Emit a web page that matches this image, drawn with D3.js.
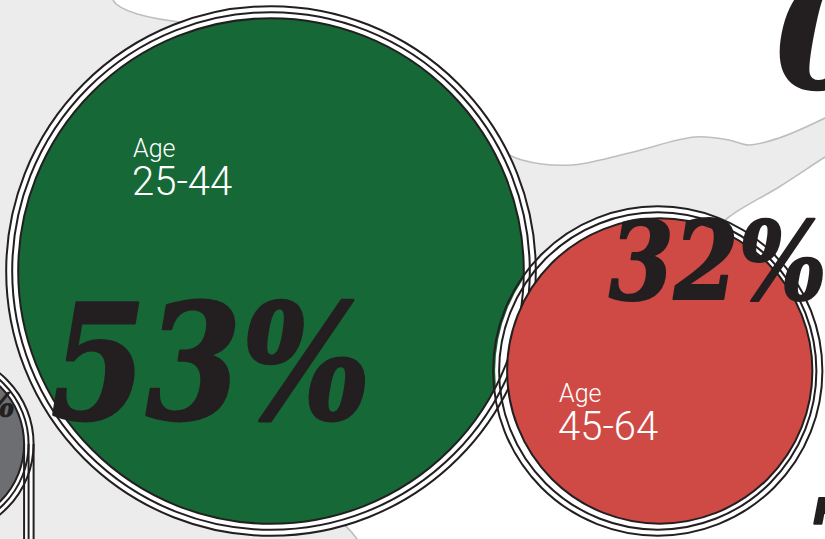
<!DOCTYPE html>
<html>
<head>
<meta charset="utf-8">
<script src="https://cdn.jsdelivr.net/npm/d3@7/dist/d3.min.js"></script>
<style>
  html, body { margin: 0; padding: 0; background: #ffffff; }
  svg { display: block; }
</style>
</head>
<body>
<svg id="chart" width="825" height="539"></svg>
<script>
// ---- data ----
const categories = ["25-44", "45-64", "other"];
const values = [53, 32, 17];
const labelPrefix = "Age";
const valueLabels = ["53%", "32%", "17%"];
const offscreenLabels = ["0", "7"];

// ---- layout (not data) ----
const W = 825, H = 539;
const centers = [[271, 271], [659.75, 371], [-57, 444]];
const fills = ["#166836", "#cf4a45", "#6d6e71"];
const ink = "#231f20";

const svg = d3.select("#chart");
const r = d3.scaleLinear().domain([0, 100]).range([0, 477]);

svg.append("rect").attr("width", W).attr("height", H).attr("fill", "#ffffff");

// background blob (decoration)
const cr = d3.line().curve(d3.curveCatmullRom.alpha(0.5));
const upper = [[495,147],[522,160],[572,165],[629,153],[695,137],[729,140],[749,145],[779,138],[825,118],[840,110]];
const lower = [[840,148],[825,157],[779,187],[729,217],[700,245]];
const blob = "M-5,-5 L113,-5 L113,0 C118,10 145,19 190,23 L300,70 L495,147 " +
  "L" + cr(upper).slice(1) +
  " L840,148 L" + cr(lower).slice(1) +
  " L518,334 L450,450 L335,518 C345,524 352,532 357,539 L357,545 L-5,545 Z";
svg.append("path").attr("d", blob).attr("fill", "#ececec")
  .attr("stroke", "#bcbec0").attr("stroke-width", 1.6);

const bubbles = categories.map((c, i) => ({
  cat: c, v: values[i], cx: centers[i][0], cy: centers[i][1], fill: fills[i],
  r: r(values[i]), off: i === 2 ? [4.5, 9.5] : [6, 12]
}));
const [g, red, gray] = bubbles;

const bigFont = "'DejaVu Serif', serif";
function big(sel, size) {
  return sel.attr("fill", ink).attr("stroke", ink).attr("stroke-width", size / 55)
    .attr("stroke-linejoin", "round")
    .attr("font-family", bigFont).attr("font-weight", "bold").attr("font-style", "italic")
    .attr("font-size", size);
}

// gray bubble (far left)
{
  const b = gray;
  const grp = svg.append("g");
  grp.append("rect").attr("x", b.cx + b.r).attr("y", b.cy)
    .attr("width", b.off[1]).attr("height", H - b.cy).attr("fill", "#fff");
  grp.append("circle").attr("cx", b.cx).attr("cy", b.cy).attr("r", b.r + b.off[1]).attr("fill", "#fff");
  [b.off[0], b.off[1]].forEach(o => grp.append("circle").attr("cx", b.cx).attr("cy", b.cy)
    .attr("r", b.r + o).attr("fill", "none").attr("stroke", ink).attr("stroke-width", 2));
  grp.append("circle").attr("cx", b.cx).attr("cy", b.cy).attr("r", b.r)
    .attr("fill", b.fill).attr("stroke", ink).attr("stroke-width", 2);
  [0, b.off[0], b.off[1]].forEach(o => grp.append("line")
    .attr("x1", b.cx + b.r + o).attr("x2", b.cx + b.r + o)
    .attr("y1", b.cy).attr("y2", H).attr("stroke", ink).attr("stroke-width", 2));
  big(grp.append("text").attr("x", 15).attr("y", 417).attr("text-anchor", "end"), 34)
    .text(valueLabels[2]);
}

// green halo + fill
svg.append("circle").attr("cx", g.cx).attr("cy", g.cy).attr("r", g.r + g.off[1]).attr("fill", "#fff");
svg.append("circle").attr("cx", g.cx).attr("cy", g.cy).attr("r", g.r).attr("fill", g.fill);
// red halo
svg.append("circle").attr("cx", red.cx).attr("cy", red.cy).attr("r", red.r + red.off[1]).attr("fill", "#fff");
// green rings + edge
[0, g.off[0], g.off[1]].forEach(o => svg.append("circle").attr("cx", g.cx).attr("cy", g.cy)
  .attr("r", g.r + o).attr("fill", "none").attr("stroke", ink).attr("stroke-width", 2));
// red rings
[red.off[0], red.off[1]].forEach(o => svg.append("circle").attr("cx", red.cx - 2).attr("cy", red.cy)
  .attr("r", red.r + o).attr("fill", "none").attr("stroke", ink).attr("stroke-width", 2));
svg.append("circle").attr("cx", red.cx).attr("cy", red.cy).attr("r", red.r)
  .attr("fill", red.fill).attr("stroke", ink).attr("stroke-width", 2);

// labels
const labelPos = [[133, 157, 195], [559, 402, 440]];
[g, red].forEach((b, i) => {
  const [x, y1, y2] = labelPos[i];
  svg.append("text").attr("x", x).attr("y", y1).attr("fill", "#fff")
    .attr("font-family", "Roboto, 'Liberation Sans', sans-serif").attr("font-weight", 300)
    .attr("font-size", 25).text(labelPrefix);
  svg.append("text").attr("x", x - 1).attr("y", y2).attr("fill", "#fff")
    .attr("font-family", "Roboto, 'Liberation Sans', sans-serif").attr("font-weight", 300)
    .attr("font-size", 40).text(b.cat);
});

// big values
big(svg.append("text").attr("x", 51).attr("y", 419), 160)
  .attr("textLength", 320).attr("lengthAdjust", "spacingAndGlyphs").text(valueLabels[0]);
big(svg.append("text").attr("x", 609).attr("y", 299), 108)
  .attr("textLength", 218).attr("lengthAdjust", "spacingAndGlyphs").text(valueLabels[1]);

// partially visible neighbours
big(svg.append("text").attr("x", 776).attr("y", 88), 150).text(offscreenLabels[0]);
big(svg.append("text").attr("x", 803).attr("y", 577), 108).text(offscreenLabels[1]);
</script>
</body>
</html>
